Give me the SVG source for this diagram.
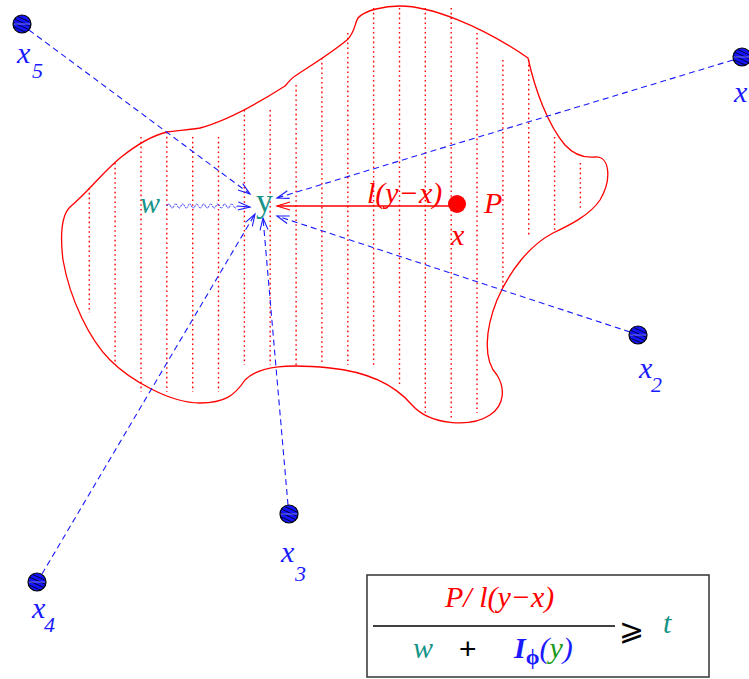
<svg xmlns="http://www.w3.org/2000/svg" width="749" height="679" viewBox="0 0 749 679">
<style>
.lbl{font-family:"Liberation Serif",serif;font-style:italic;fill:#1a1aff;font-size:30px}
.sub{font-size:22px}
.teal{fill:#169488}
.red{fill:#ff0000}
.hatch{stroke:#ff0000;stroke-width:1.4;stroke-dasharray:1.6,3.2}
.dash{stroke:#1a1aff;stroke-width:1.1;stroke-dasharray:6,4;fill:none}
</style>
<defs>
<clipPath id="bc"><circle r="9"/></clipPath>
<g id="ball">
<circle r="9" fill="#1414ff"/>
<g clip-path="url(#bc)" stroke="#000" stroke-width="0.8">
<line x1="-10" y1="-10" x2="10" y2="-1"/>
<line x1="-10" y1="-6" x2="10" y2="3"/>
<line x1="-10" y1="-2" x2="10" y2="7"/>
<line x1="-10" y1="2" x2="10" y2="11"/>
</g>
<line x1="-9" y1="0" x2="9" y2="0" stroke="#9090ff" stroke-width="0.8"/>
<circle r="9" fill="none" stroke="#000" stroke-width="1.2"/>
</g>
<marker id="ab" viewBox="-14 -7 16 14" refX="0" refY="0" markerWidth="16" markerHeight="14" markerUnits="userSpaceOnUse" orient="auto">
<path d="M-12,-4 L0,0 L-12,4" fill="none" stroke="#1a1aff" stroke-width="1.1"/>
</marker>
<marker id="ar" viewBox="-14 -7 16 14" refX="0" refY="0" markerWidth="16" markerHeight="14" markerUnits="userSpaceOnUse" orient="auto">
<path d="M-13,-4 L0,0 L-13,4" fill="none" stroke="#ff0000" stroke-width="1.3"/>
</marker>
</defs>
<rect width="749" height="679" fill="#fff"/>

<g id="region">
<g class="hatch">
<line x1="89.3" y1="188" x2="89.3" y2="313"/>
<line x1="115.1" y1="163" x2="115.1" y2="365"/>
<line x1="141" y1="137" x2="141" y2="392"/>
<line x1="166.8" y1="132" x2="166.8" y2="392"/>
<line x1="192.7" y1="137" x2="192.7" y2="392"/>
<line x1="218.5" y1="137" x2="218.5" y2="392"/>
<line x1="244.4" y1="110" x2="244.4" y2="365"/>
<line x1="270.2" y1="110" x2="270.2" y2="365"/>
<line x1="296.1" y1="85" x2="296.1" y2="365"/>
<line x1="321.9" y1="58" x2="321.9" y2="365"/>
<line x1="347.8" y1="33" x2="347.8" y2="365"/>
<line x1="373.6" y1="8" x2="373.6" y2="365"/>
<line x1="399.5" y1="8" x2="399.5" y2="387"/>
<line x1="425.3" y1="8" x2="425.3" y2="413"/>
<line x1="451.2" y1="8" x2="451.2" y2="418"/>
<line x1="477" y1="33" x2="477" y2="413"/>
<line x1="502.9" y1="60" x2="502.9" y2="290"/>
<line x1="528.7" y1="60" x2="528.7" y2="237"/>
<line x1="554.6" y1="137" x2="554.6" y2="233"/>
<line x1="580.4" y1="163" x2="580.4" y2="210"/>
</g>
<path d="M70,207 C90,190 100,175 120,158 C135,146 150,136 167,132 C180,130 190,130 200,128 C230,120 260,102 285,86 C288,83 290,79 295,76 C310,66 330,54 347,40 C355,33 355,22 358,18 C365,10 385,6 400,6 C430,6 480,25 528,58 C535,90 548,125 565,145 C575,156 585,158 595,157 C610,156 612,180 600,200 C590,215 570,225 553,233 C530,245 510,270 497,300 C485,330 483,360 497,375 C505,388 505,405 490,415 C470,428 430,425 412,405 C395,385 370,372 330,368 C290,364 260,365 245,380 C235,395 225,403 200,403 C170,403 130,380 110,360 C90,340 70,300 63,260 C60,235 62,215 70,207 Z" fill="none" stroke="#ff0000" stroke-width="1.3"/>
</g>

<g id="connectors">
<line class="dash" x1="29" y1="30" x2="250" y2="194" marker-end="url(#ab)"/>
<line class="dash" x1="733" y1="60" x2="277" y2="198" marker-end="url(#ab)"/>
<line class="dash" x1="630" y1="332" x2="277" y2="216" marker-end="url(#ab)"/>
<line class="dash" x1="288" y1="505" x2="263" y2="218" marker-end="url(#ab)"/>
<line class="dash" x1="42" y1="574" x2="255" y2="214" marker-end="url(#ab)"/>
<path d="M167,206 q1.75,-4 3.5,0 t3.5,0 t3.5,0 t3.5,0 t3.5,0 t3.5,0 t3.5,0 t3.5,0 t3.5,0 t3.5,0 t3.5,0 t3.5,0 t3.5,0 t3.5,0 t3.5,0 t3.5,0 t3.5,0 t3.5,0 t3.5,0 t3.5,0" fill="none" stroke="#1a1aff" stroke-width="1" stroke-dasharray="1.5,0.8"/>
<line x1="237" y1="206" x2="250" y2="207" stroke="#1a1aff" stroke-width="1.1" marker-end="url(#ab)"/>
<line x1="450" y1="206" x2="277" y2="206" stroke="#ff0000" stroke-width="1.3" marker-end="url(#ar)"/>
<text class="lbl red" x="367" y="203" font-size="31">l(y−x)</text>
</g>

<g id="x5"><use href="#ball" x="22" y="24"/><text class="lbl" x="17" y="63">x<tspan class="sub" x="32" y="78">5</tspan></text></g>
<g id="x1"><use href="#ball" x="742" y="57"/><text class="lbl" x="734" y="102">x</text></g>
<g id="x2"><use href="#ball" x="638" y="335"/><text class="lbl" x="639" y="378">x<tspan class="sub" x="651" y="392">2</tspan></text></g>
<g id="x3"><use href="#ball" x="289" y="514"/><text class="lbl" x="281" y="562">x<tspan class="sub" x="295" y="581">3</tspan></text></g>
<g id="x4"><use href="#ball" x="37" y="582"/><text class="lbl" x="32" y="618">x<tspan class="sub" x="44" y="632">4</tspan></text></g>

<g id="y"><text x="256" y="212" font-family="Liberation Serif,serif" font-size="34" fill="#169488">y</text></g>
<g id="w"><text class="lbl teal" x="140" y="213" font-size="32">w</text></g>
<g id="P"><circle cx="457" cy="204" r="9" fill="#ff0000"/><text class="lbl red" x="484" y="213">P</text><text class="lbl red" x="451" y="245">x</text></g>

<g id="formula">
<rect x="367" y="575" width="342" height="102" fill="none" stroke="#333" stroke-width="1.5"/>
<line x1="373" y1="626" x2="615" y2="626" stroke="#000" stroke-width="1.3"/>
<text class="lbl red" x="445" y="607" font-size="27">P/ l(y−x)</text>
<text class="lbl teal" x="413" y="658" font-size="27">w</text>
<text x="459" y="659" font-family="Liberation Sans,sans-serif" font-size="30" fill="#000">+</text>
<text class="lbl" x="514" y="658" font-size="28" font-weight="bold">I<tspan font-style="normal" font-weight="bold" font-size="22" y="664">ϕ</tspan><tspan font-weight="normal" y="658">(</tspan><tspan font-weight="normal" fill="#1a9a1a">y</tspan><tspan font-weight="normal">)</tspan></text>
<text x="619" y="640" font-family="DejaVu Sans,sans-serif" font-size="30" fill="#000">⩾</text>
<text class="lbl teal" x="663" y="633" font-size="27">t</text>
</g>
</svg>
